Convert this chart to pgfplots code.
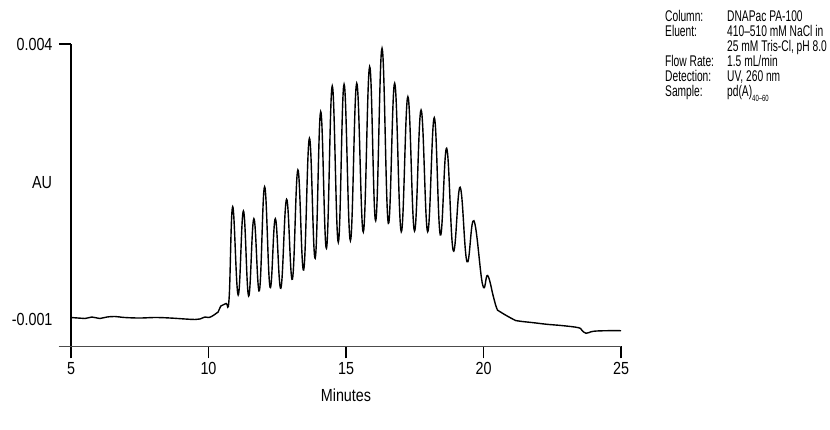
\documentclass[border=0pt]{standalone}
\usepackage{pgfplots}
\pgfplotsset{compat=1.18}
\usepackage{fontspec}
\setmainfont{Liberation Sans}[FakeStretch=0.82]
\newfontfamily\annfont{Liberation Sans}[FakeStretch=0.66]
\begin{document}
\begin{tikzpicture}
\path[use as bounding box] (-71pt,-83.5pt) rectangle (759pt,346.5pt);
\begin{axis}[
  scale only axis, width=550pt, height=302.5pt,
  xmin=5, xmax=25, ymin=-0.0015, ymax=0.004,
  axis x line=bottom, axis y line=left,
  axis line style={-},
  x axis line style={-, draw=black!70, line width=1.6pt},
  y axis line style={-, draw=black, line width=1.2pt},
  tick align=outside, major tick length=12pt,
  tick style={black, line width=1.2pt},
  xtick={5,10,15,20,25}, xticklabels={5,10,15,20,25},
  ytick={0.004}, yticklabels={0.004},
  extra y ticks={-0.001}, extra y tick labels={-0.001},
  extra y tick style={major tick style={draw=none}},
  scaled y ticks=false,
  tick label style={font=\fontsize{17.5}{20}\selectfont},
  yticklabel style={xshift=-3pt},
  xlabel={Minutes}, ylabel={AU},
  every axis x label/.style={at={(axis description cs:0.5,0)}, anchor=center, yshift=-48.5pt, font=\fontsize{17.5}{20}\selectfont},
  every axis y label/.style={at={(axis description cs:0,0.5405)}, anchor=center, xshift=-29pt, font=\fontsize{17.5}{20}\selectfont},
  clip=false,
]
\addplot[black, line width=1.4pt, smooth, tension=0.7] table {
5.00 -0.000973
5.25 -0.000982
5.51 -0.000991
5.76 -0.000964
6.05 -0.000991
6.31 -0.000964
6.60 -0.000955
6.96 -0.000973
7.51 -0.000982
8.05 -0.000973
8.60 -0.000982
9.15 -0.001000
9.51 -0.001009
9.69 -0.001000
9.87 -0.000964
10.02 -0.000973
10.20 -0.000927
10.35 -0.000873
10.45 -0.000764
10.64 -0.000718
10.75 -0.000618
10.88 0.001042
11.08 -0.000564
11.27 0.000964
11.46 -0.000582
11.65 0.000824
11.85 -0.000485
12.04 0.001405
12.24 -0.000424
12.43 0.000824
12.63 -0.000442
12.84 0.001176
13.05 -0.000278
13.25 0.001709
13.46 -0.000109
13.67 0.002285
13.88 0.000104
14.08 0.002769
14.29 0.000285
14.50 0.003236
14.72 0.000395
14.93 0.003267
15.16 0.000424
15.39 0.003285
15.63 0.000582
15.86 0.003587
16.08 0.000787
16.31 0.003922
16.54 0.000740
16.77 0.003285
17.01 0.000587
17.25 0.003042
17.49 0.000600
17.73 0.002800
17.97 0.000587
18.21 0.002660
18.43 0.000527
18.66 0.002104
18.90 0.000242
19.15 0.001395
19.40 0.000042
19.65 0.000787
19.97 -0.000382
20.15 -0.000209
20.36 -0.000595
20.48 -0.000805
20.60 -0.000867
21.08 -0.001005
21.27 -0.001036
21.81 -0.001067
22.30 -0.001096
22.90 -0.001122
23.45 -0.001158
23.57 -0.001200
23.73 -0.001260
23.99 -0.001224
24.48 -0.001213
25.00 -0.001213
};
\end{axis}
\draw[black!70, line width=1.6pt] (-12.4pt,0) -- (0.6pt,0);
\node[anchor=north west, inner sep=0pt, align=left] at (594pt,336pt) {%
  \annfont\fontsize{15.5}{12.4}\selectfont
  \begin{tabular}{@{}p{62pt}@{}l@{}}
  Column: & DNAPac PA-100\\
  Eluent: & 410–510 mM NaCl in\\
          & 25 mM Tris-Cl, pH 8.0\\
  Flow Rate: & 1.5 mL/min\\
  Detection: & UV, 260 nm\\
  Sample: & pd(A)\raisebox{-4.5pt}{\fontsize{9}{10}\selectfont 40–60}
  \end{tabular}};
\end{tikzpicture}
\end{document}
